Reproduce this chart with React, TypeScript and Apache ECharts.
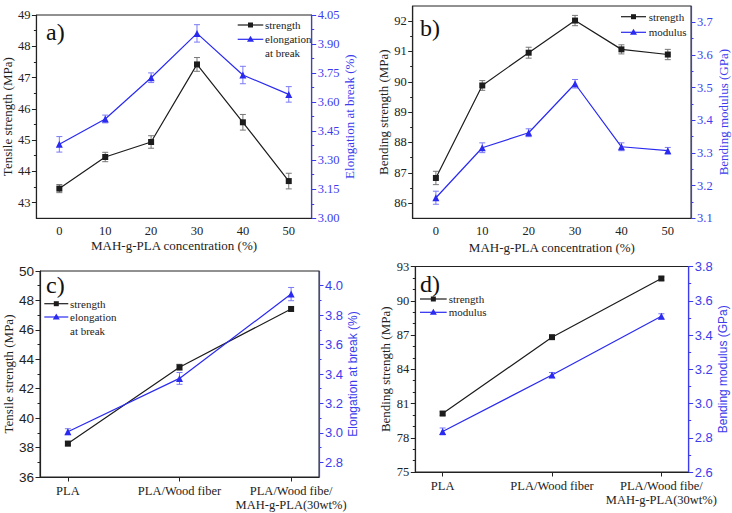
import React, { useEffect, useRef } from "react";
import * as echarts from "echarts";

// ---------- data ----------
const concCats = ["0", "10", "20", "30", "40", "50"];
const aStrength = [43.45, 44.46, 44.94, 47.42, 45.57, 43.69];
const aStrengthErr = [0.13, 0.15, 0.2, 0.22, 0.25, 0.25];
const aElong = [3.382, 3.513, 3.726, 3.955, 3.74, 3.64];
const aElongErr = [0.04, 0.02, 0.025, 0.045, 0.045, 0.04];

const bStrength = [86.83, 89.88, 90.96, 92.02, 91.07, 90.9];
const bStrengthErr = [0.22, 0.16, 0.18, 0.17, 0.15, 0.17];
const bModulus = [3.163, 3.316, 3.362, 3.512, 3.319, 3.307];
const bModulusErr = [0.02, 0.015, 0.012, 0.013, 0.012, 0.01];

const matCats = ["PLA", "PLA/Wood fiber", "PLA/Wood fibe/\nMAH-g-PLA(30wt%)"];
const cStrength = [38.27, 43.46, 47.42];
const cStrengthErr = [0.15, 0.2, 0.15];
const cElong = [3.008, 3.37, 3.943];
const cElongErr = [0.02, 0.04, 0.045];

const dStrength = [80.12, 86.81, 91.95];
const dStrengthErr = [0.15, 0.15, 0.15];
const dModulus = [2.837, 3.166, 3.509];
const dModulusErr = [0.02, 0.015, 0.015];

// tick labels
const aLeftTicks = [43, 44, 45, 46, 47, 48, 49];
const aLeftMinor = [43.5, 44.5, 45.5, 46.5, 47.5, 48.5];
const aRightTicks = [3.0, 3.15, 3.3, 3.45, 3.6, 3.75, 3.9, 4.05];
const aRightMinor = [3.075, 3.225, 3.375, 3.525, 3.675, 3.825, 3.975];
const bLeftTicks = [86, 87, 88, 89, 90, 91, 92];
const bLeftMinor = [86.5, 87.5, 88.5, 89.5, 90.5, 91.5];
const bRightTicks = [3.1, 3.2, 3.3, 3.4, 3.5, 3.6, 3.7];
const bRightMinor = [3.15, 3.25, 3.35, 3.45, 3.55, 3.65];
const cLeftTicks = [36, 38, 40, 42, 44, 46, 48, 50];
const cLeftMinor = [37, 39, 41, 43, 45, 47, 49];
const cRightTicks = [2.8, 3.0, 3.2, 3.4, 3.6, 3.8, 4.0];
const cRightMinor = [2.9, 3.1, 3.3, 3.5, 3.7, 3.9];
const dLeftTicks = [75, 78, 81, 84, 87, 90, 93];
const dLeftMinor = [76, 77, 79, 80, 82, 83, 85, 86, 88, 89, 91, 92];
const dRightTicks = [2.6, 2.8, 3.0, 3.2, 3.4, 3.6, 3.8];
const dRightMinor = [2.7, 2.9, 3.1, 3.3, 3.5, 3.7];
const matTicks = [0, 1, 2];

// ---------- styles ----------
const SERIF = "Liberation Serif, Times New Roman, serif";
const SANS = "Liberation Sans, Arial, sans-serif";
const BLACK = "#1c1c1c";
const BLUE = "#2a2af0";
const AXBLUE = "#3c3cee";
const ERR_BLACK = "#777777";
const ERR_BLUE = "#7a7af5";

function yAxes(
  gi: number,
  pos: string,
  min: number,
  max: number,
  major: number[],
  minor: number[],
  color: string,
  font: string,
  fontSize: number,
  dec: number,
  name: string,
  nameFont: string,
  nameSize: number,
  nameGap: number
) {
  return [
    {
      type: "value",
      gridIndex: gi,
      position: pos,
      min,
      max,
      name,
      nameLocation: "middle",
      nameGap,
      nameRotate: 90,
      nameTextStyle: { color, fontFamily: nameFont, fontSize: nameSize },
      axisLine: { show: true, onZero: false, lineStyle: { color, width: 1.2 } },
      axisTick: { show: true, length: 4.5, customValues: major, lineStyle: { color } },
      axisLabel: {
        show: true,
        customValues: major,
        formatter: (v: number) => Number(v).toFixed(dec),
        color,
        fontFamily: font,
        fontSize,
        margin: 6,
      },
      splitLine: { show: false },
    },
    {
      type: "value",
      gridIndex: gi,
      position: pos,
      min,
      max,
      axisLine: { show: false, onZero: false },
      axisTick: { show: true, length: 2.5, customValues: minor, lineStyle: { color } },
      axisLabel: { show: false },
      splitLine: { show: false },
    },
  ];
}

function errSeries(gi: number, yi: number, xs: number[], ys: number[], es: number[], color: string) {
  return {
    type: "custom",
    xAxisIndex: gi,
    yAxisIndex: yi,
    encode: { x: 0, y: 1 },
    z: 1,
    data: ys.map((y, i) => [xs[i], y, es[i]]),
    renderItem: (params: any, api: any) => {
      const x = api.value(0);
      const y = api.value(1);
      const e = api.value(2);
      const t = api.coord([x, y + e]);
      const b = api.coord([x, y - e]);
      const w = 3;
      const style = { stroke: color, lineWidth: 1 };
      return {
        type: "group",
        children: [
          { type: "line", shape: { x1: t[0], y1: t[1], x2: b[0], y2: b[1] }, style },
          { type: "line", shape: { x1: t[0] - w, y1: t[1], x2: t[0] + w, y2: t[1] }, style },
          { type: "line", shape: { x1: b[0] - w, y1: b[1], x2: b[0] + w, y2: b[1] }, style },
        ],
      };
    },
  };
}

function lineSeries(gi: number, yi: number, xs: number[], ys: number[], color: string, symbol: string, size: number) {
  return {
    type: "line",
    xAxisIndex: gi,
    yAxisIndex: yi,
    data: ys.map((y, i) => [xs[i], y]),
    symbol,
    symbolSize: size,
    showSymbol: true,
    z: 3,
    lineStyle: { color, width: 1.2 },
    itemStyle: { color },
  };
}

function legendItem(x1: number, x2: number, y: number, color: string, tri: boolean, lines: string[], textX: number) {
  const cx = (x1 + x2) / 2;
  const els: any[] = [
    { type: "line", shape: { x1, y1: y, x2, y2: y }, style: { stroke: color, lineWidth: 1.2 } },
  ];
  if (tri) {
    els.push({
      type: "polygon",
      shape: { points: [[cx, y - 3.5], [cx - 3.5, y + 2.5], [cx + 3.5, y + 2.5]] },
      style: { fill: color },
    });
  } else {
    els.push({ type: "rect", shape: { x: cx - 2.5, y: y - 2.5, width: 5, height: 5 }, style: { fill: color } });
  }
  lines.forEach((t, i) => {
    els.push({
      type: "text",
      x: textX,
      y: y + i * 13.5,
      style: { text: t, fontFamily: SERIF, fontSize: 11, fill: "#222", verticalAlign: "middle", align: "left" },
    });
  });
  return els;
}

function panelLabel(x: number, y: number, t: string) {
  return {
    type: "text",
    x,
    y,
    style: { text: t, fontFamily: SERIF, fontSize: 24, fill: "#111", verticalAlign: "middle", align: "left" },
  };
}

const catIdx = [0, 1, 2, 3, 4, 5];

export default function App() {
  const ref = useRef<HTMLDivElement>(null);
  useEffect(() => {
    if (!ref.current) return;
    const chart = echarts.init(ref.current, null, { renderer: "svg" });
    const gridBase = { show: true, borderColor: "#222", borderWidth: 1, backgroundColor: "transparent", containLabel: false };
    const xCat = (gi: number, nameGap: number) => ({
      type: "category",
      gridIndex: gi,
      data: concCats,
      boundaryGap: true,
      name: "MAH-g-PLA concentration (%)",
      nameLocation: "middle",
      nameGap,
      nameTextStyle: { color: "#222", fontFamily: SERIF, fontSize: 13 },
      axisLine: { lineStyle: { color: "#222", width: 1.2 } },
      axisTick: { alignWithLabel: true, length: 4.5, lineStyle: { color: "#222" } },
      axisLabel: { interval: 0, color: "#222", fontFamily: SERIF, fontSize: 12.5, margin: 6 },
      splitLine: { show: false },
    });
    const xMat = (gi: number) => ({
      type: "value",
      gridIndex: gi,
      min: -0.25,
      max: 2.25,
      axisLine: { onZero: false, lineStyle: { color: "#222", width: 1.2 } },
      axisTick: { show: true, length: 4.5, customValues: matTicks, lineStyle: { color: "#222" } },
      axisLabel: {
        customValues: matTicks,
        formatter: (v: number) => matCats[Math.round(v)],
        color: "#222",
        fontFamily: SERIF,
        fontSize: 12.5,
        lineHeight: 14,
        margin: 7,
      },
      splitLine: { show: false },
    });

    const option: any = {
      animation: false,
      backgroundColor: "#ffffff",
      textStyle: { fontFamily: SERIF },
      grid: [
        { ...gridBase, left: 35, top: 15, width: 276.7, height: 203.3 },
        { ...gridBase, left: 412.7, top: 6, width: 278.3, height: 212.3 },
        { ...gridBase, left: 40, top: 271, width: 279, height: 206 },
        { ...gridBase, left: 415.3, top: 266.5, width: 273.4, height: 205.5 },
      ],
      xAxis: [xCat(0, 21), xCat(1, 23), xMat(2), xMat(3)],
      yAxis: [
        ...yAxes(0, "left", 42.5, 49, aLeftTicks, aLeftMinor, "#222", SERIF, 12.5, 0, "Tensile strength (MPa)", SERIF, 13, 17),
        ...yAxes(0, "right", 3.0, 4.05, aRightTicks, aRightMinor, AXBLUE, SERIF, 12.5, 2, "Elongation at break (%)", SERIF, 13, 31),
        ...yAxes(1, "left", 85.5, 92.5, bLeftTicks, bLeftMinor, "#222", SERIF, 12.5, 0, "Bending strength (MPa)", SERIF, 13, 20),
        ...yAxes(1, "right", 3.1, 3.75, bRightTicks, bRightMinor, AXBLUE, SERIF, 12.5, 1, "Bending modulus (GPa)", SERIF, 13, 26),
        ...yAxes(2, "left", 36, 50, cLeftTicks, cLeftMinor, "#222", SANS, 13.5, 0, "Tensile strength (MPa)", SERIF, 13, 22),
        ...yAxes(2, "right", 2.7, 4.1, cRightTicks, cRightMinor, AXBLUE, SANS, 13, 1, "Elongation at break (%)", SANS, 12, 25),
        ...yAxes(3, "left", 75, 93, dLeftTicks, dLeftMinor, "#222", SERIF, 12.5, 0, "Bending strength (MPa)", SERIF, 13, 23),
        ...yAxes(3, "right", 2.6, 3.8, dRightTicks, dRightMinor, AXBLUE, SANS, 13, 1, "Bending modulus (GPa)", SANS, 12, 27),
      ],
      series: [
        errSeries(0, 0, catIdx, aStrength, aStrengthErr, ERR_BLACK),
        errSeries(0, 2, catIdx, aElong, aElongErr, ERR_BLUE),
        lineSeries(0, 0, catIdx, aStrength, BLACK, "rect", 6),
        lineSeries(0, 2, catIdx, aElong, BLUE, "triangle", 7),

        errSeries(1, 4, catIdx, bStrength, bStrengthErr, ERR_BLACK),
        errSeries(1, 6, catIdx, bModulus, bModulusErr, ERR_BLUE),
        lineSeries(1, 4, catIdx, bStrength, BLACK, "rect", 6),
        lineSeries(1, 6, catIdx, bModulus, BLUE, "triangle", 7),

        errSeries(2, 8, matTicks, cStrength, cStrengthErr, ERR_BLACK),
        errSeries(2, 10, matTicks, cElong, cElongErr, ERR_BLUE),
        lineSeries(2, 8, matTicks, cStrength, BLACK, "rect", 6),
        lineSeries(2, 10, matTicks, cElong, BLUE, "triangle", 7),

        errSeries(3, 12, matTicks, dStrength, dStrengthErr, ERR_BLACK),
        errSeries(3, 14, matTicks, dModulus, dModulusErr, ERR_BLUE),
        lineSeries(3, 12, matTicks, dStrength, BLACK, "rect", 6),
        lineSeries(3, 14, matTicks, dModulus, BLUE, "triangle", 7),
      ],
      graphic: [
        panelLabel(46, 31.5, "a)"),
        panelLabel(420, 28, "b)"),
        panelLabel(46, 285, "c)"),
        panelLabel(420, 284, "d)"),
        ...legendItem(237.7, 263.3, 25, BLACK, false, ["strength"], 265),
        ...legendItem(237.7, 263.3, 39.3, BLUE, true, ["elongation", "at break"], 265),
        ...legendItem(621, 646, 16.7, BLACK, false, ["strength"], 648.7),
        ...legendItem(621, 646, 32.3, BLUE, true, ["modulus"], 648.7),
        ...legendItem(44.3, 68.3, 303.7, BLACK, false, ["strength"], 70),
        ...legendItem(44.3, 68.3, 317, BLUE, true, ["elongation", "at break"], 70),
        ...legendItem(420, 446.7, 299, BLACK, false, ["strength"], 448.7),
        ...legendItem(420, 446.7, 312.3, BLUE, true, ["modulus"], 448.7),
      ],
    };
    chart.setOption(option);
    return () => chart.dispose();
  }, []);
  return (
    <div
      ref={ref}
      style={{ position: "fixed", left: 0, top: 0, width: 732, height: 513, background: "#fff" }}
    />
  );
}
